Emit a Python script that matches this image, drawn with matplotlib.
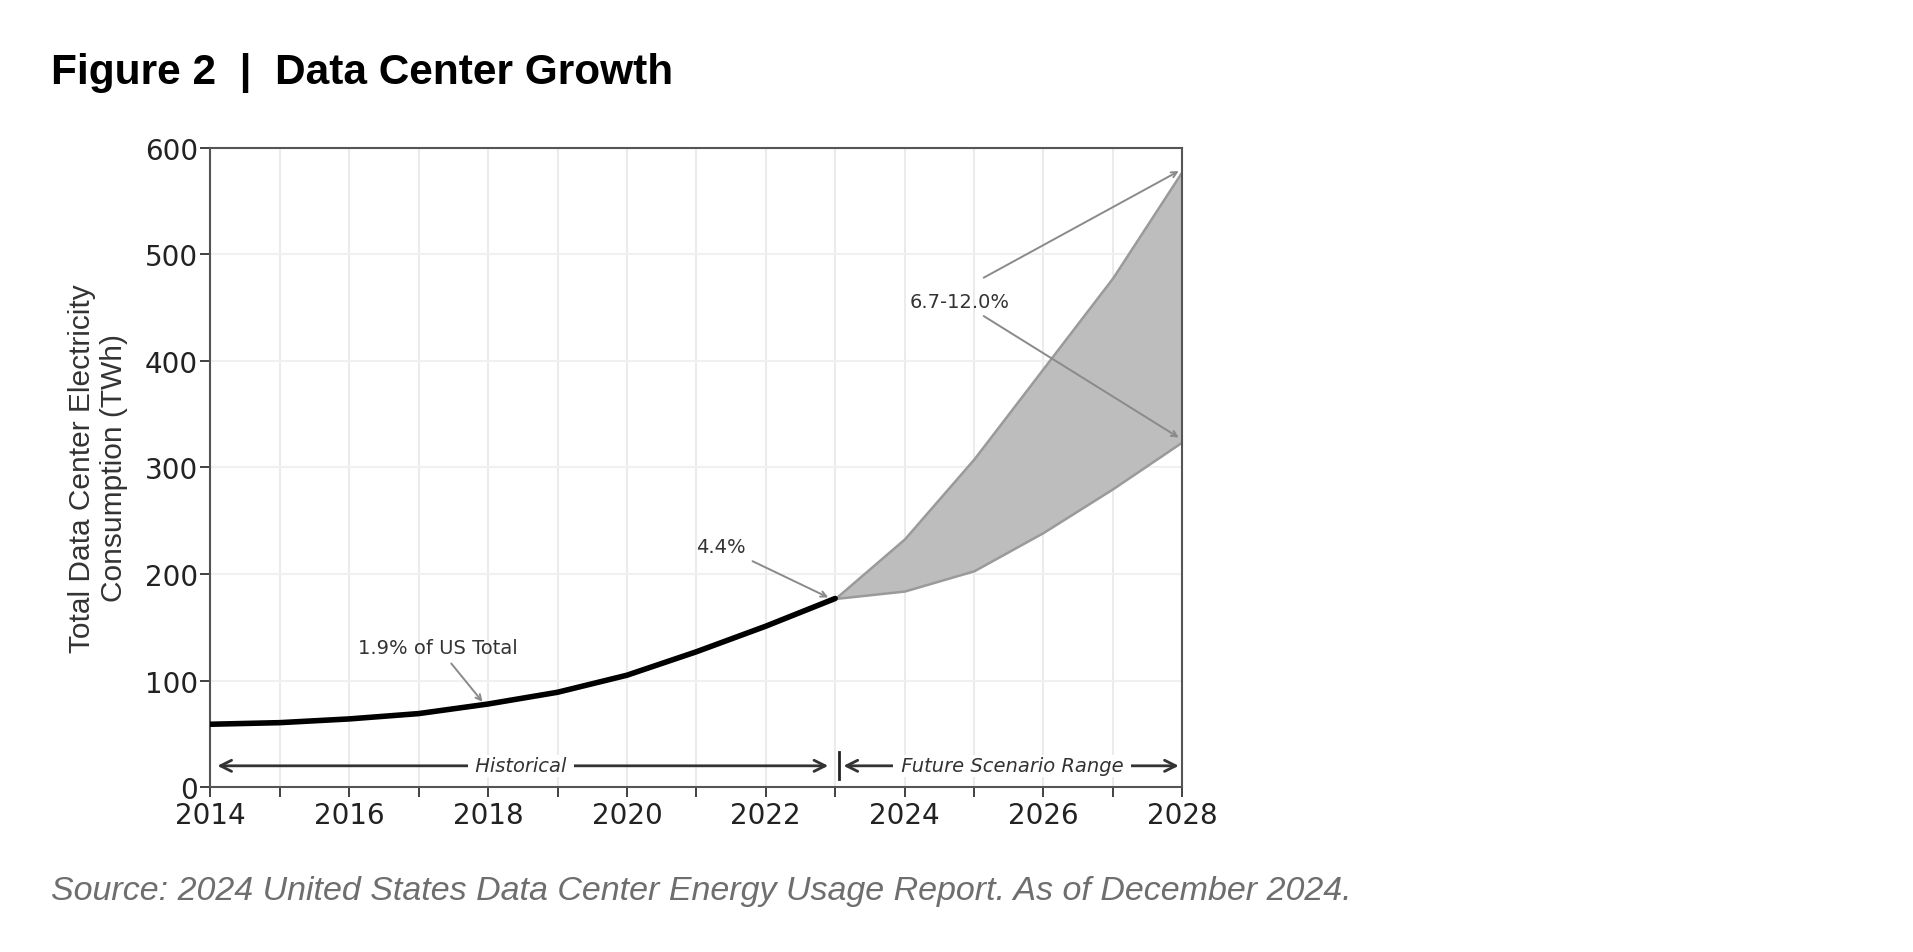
import numpy as np
import matplotlib.pyplot as plt
from matplotlib.ticker import MultipleLocator

# historical consumption (TWh)
hist_years = [2014, 2015, 2016, 2017, 2018, 2019, 2020, 2021, 2022, 2023]
hist_twh = [59, 60.5, 64, 69, 78, 89, 105, 127, 151, 177]

# future scenario range (TWh)
future_years = [2023, 2024, 2025, 2026, 2027, 2028]
future_high = [177, 233, 308, 393, 478, 578]
future_low = [177, 184, 203, 239, 280, 324]

title = "Figure 2  |  Data Center Growth"
source = "Source: 2024 United States Data Center Energy Usage Report. As of December 2024."
ylabel = "Total Data Center Electricity\nConsumption (TWh)"

fig = plt.figure(figsize=(19.13, 9.53), dpi=100)
ax = fig.add_axes([0.110, 0.173, 0.508, 0.671])

ax.fill_between(future_years, future_low, future_high, color="#bdbdbd",
                edgecolor="#9a9a9a", linewidth=1.8, zorder=2)
ax.plot(hist_years, hist_twh, color="black", linewidth=4, solid_capstyle="round", zorder=3)

ax.set_xlim(2014, 2028)
ax.set_ylim(0, 600)
ax.xaxis.set_major_locator(MultipleLocator(2))
ax.xaxis.set_minor_locator(MultipleLocator(1))
ax.yaxis.set_major_locator(MultipleLocator(100))
ax.grid(which="both", axis="x", color="#ebebeb", linewidth=1.5, zorder=0)
ax.grid(which="major", axis="y", color="#f0f0f0", linewidth=1.5, zorder=0)
ax.tick_params(axis="both", which="major", labelsize=20, length=7, width=1.3, color="#333333",
               labelcolor="#222222", pad=2)
ax.tick_params(axis="x", which="major", pad=3)
ax.tick_params(axis="x", which="minor", length=7, width=1.3, color="#333333")
for s in ax.spines.values():
    s.set_color("#555555")
    s.set_linewidth(1.5)
ax.set_ylabel(ylabel, fontsize=21.5, color="#333333", labelpad=12, linespacing=1.2,
              family="Liberation Sans")

# annotations
grey_arrow = dict(arrowstyle="->", color="#8a8a8a", lw=1.4, shrinkA=0, shrinkB=0)
ax.text(2017.27, 131, "1.9% of US Total", fontsize=14, color="#333333", ha="center", va="center")
ax.annotate("", xy=(2017.92, 80), xytext=(2017.47, 116), arrowprops=grey_arrow)
ax.text(2021.36, 226, "4.4%", fontsize=14, color="#333333", ha="center", va="center")
ax.annotate("", xy=(2022.9, 178), xytext=(2021.81, 212), arrowprops=grey_arrow)
ax.text(2024.8, 456, "6.7-12.0%", fontsize=14, color="#333333", ha="center", va="center")
ax.annotate("", xy=(2027.95, 578), xytext=(2025.14, 478), arrowprops=grey_arrow)
ax.annotate("", xy=(2027.95, 328), xytext=(2025.14, 442), arrowprops=grey_arrow)

# period arrows
dark_arrow = dict(arrowstyle="<->", color="#333333", lw=2, shrinkA=0, shrinkB=0,
                  mutation_scale=20)
ax.annotate("", xy=(2014.1, 20), xytext=(2022.9, 20), arrowprops=dark_arrow, zorder=4)
ax.text(2018.47, 20, " Historical ", fontsize=14, style="italic", color="#333333",
        ha="center", va="center", bbox=dict(facecolor="white", edgecolor="none", pad=1), zorder=5)
ax.annotate("", xy=(2023.12, 20), xytext=(2027.95, 20), arrowprops=dark_arrow, zorder=4)
ax.text(2025.55, 20, " Future Scenario Range ", fontsize=14, style="italic", color="#333333",
        ha="center", va="center", bbox=dict(facecolor="white", edgecolor="none", pad=1), zorder=5)
ax.plot([2023.05, 2023.05], [8, 33], color="#222222", linewidth=2, zorder=5)

fig.text(51 / 1913, 1 - 73 / 953, title, fontsize=30.5, fontweight="bold", family="Liberation Sans",
         ha="left", va="center", color="black")
fig.text(51 / 1913, 1 - 892 / 953, source, fontsize=24.5, style="italic", family="Liberation Sans",
         ha="left", va="center", color="#6e6e6e")

fig.savefig("out.png", dpi=100)
